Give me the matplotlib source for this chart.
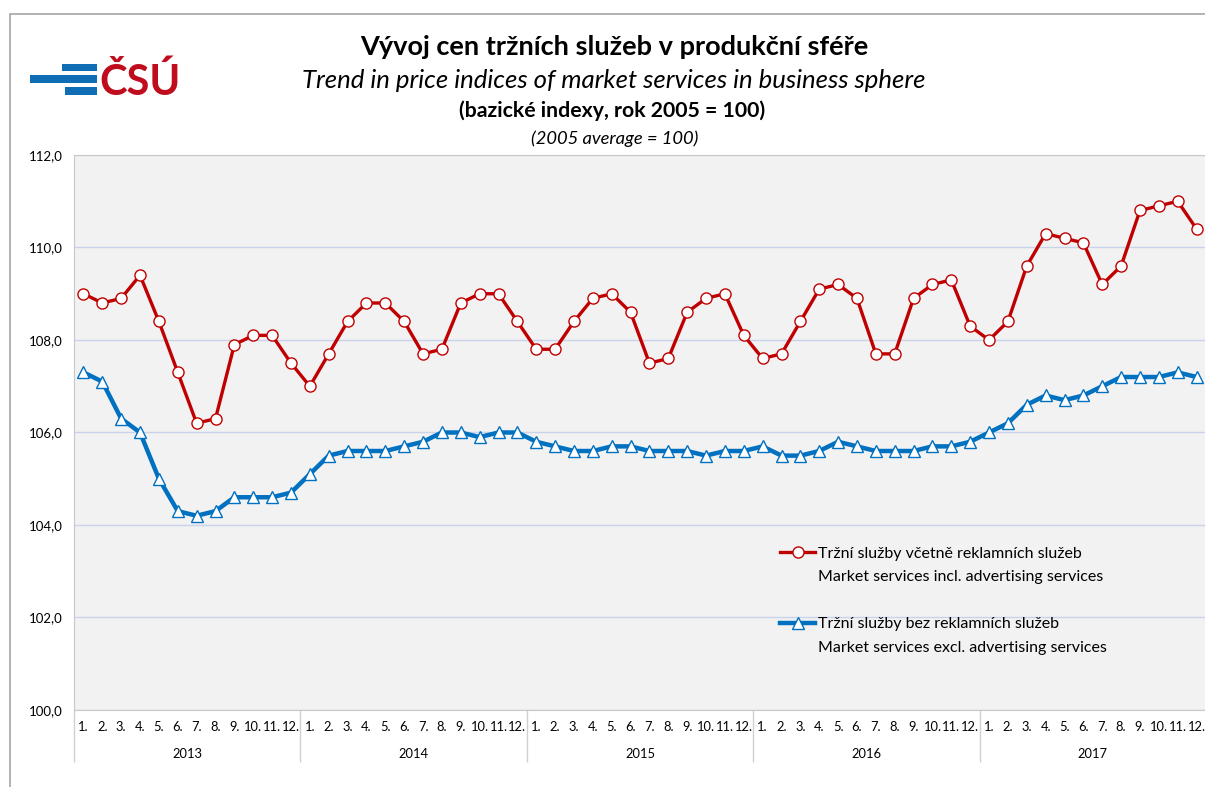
import numpy as np
import matplotlib.pyplot as plt
from matplotlib.lines import Line2D
from matplotlib.patches import Rectangle

plt.rcParams['font.family'] = ['Lato', 'DejaVu Sans']

years = ['2013', '2014', '2015', '2016', '2017']
months = ['1.', '2.', '3.', '4.', '5.', '6.', '7.', '8.', '9.', '10.', '11.', '12.']

# trzni sluzby vcetne reklamnich sluzeb (2005 = 100)
incl_adv = [109.0, 108.8, 108.9, 109.4, 108.4, 107.3, 106.2, 106.3, 107.9, 108.1, 108.1, 107.5,
            107.0, 107.7, 108.4, 108.8, 108.8, 108.4, 107.7, 107.8, 108.8, 109.0, 109.0, 108.4,
            107.8, 107.8, 108.4, 108.9, 109.0, 108.6, 107.5, 107.6, 108.6, 108.9, 109.0, 108.1,
            107.6, 107.7, 108.4, 109.1, 109.2, 108.9, 107.7, 107.7, 108.9, 109.2, 109.3, 108.3,
            108.0, 108.4, 109.6, 110.3, 110.2, 110.1, 109.2, 109.6, 110.8, 110.9, 111.0, 110.4]
# trzni sluzby bez reklamnich sluzeb
excl_adv = [107.3, 107.1, 106.3, 106.0, 105.0, 104.3, 104.2, 104.3, 104.6, 104.6, 104.6, 104.7,
            105.1, 105.5, 105.6, 105.6, 105.6, 105.7, 105.8, 106.0, 106.0, 105.9, 106.0, 106.0,
            105.8, 105.7, 105.6, 105.6, 105.7, 105.7, 105.6, 105.6, 105.6, 105.5, 105.6, 105.6,
            105.7, 105.5, 105.5, 105.6, 105.8, 105.7, 105.6, 105.6, 105.6, 105.7, 105.7, 105.8,
            106.0, 106.2, 106.6, 106.8, 106.7, 106.8, 107.0, 107.2, 107.2, 107.2, 107.3, 107.2]

labels_cz = ['Tržní služby včetně reklamních služeb', 'Tržní služby bez reklamních služeb']
labels_en = ['Market services incl. advertising services', 'Market services excl. advertising services']
yticks = [100, 102, 104, 106, 108, 110, 112]

W, H = 1205, 787
red = '#C00000'
blue = '#0070C0'

fig = plt.figure(figsize=(W / 100, H / 100), dpi=100)

# outer frame
fig.patches.append(Rectangle((10 / W, -0.05), 1.2, (H - 14) / H + 0.05, transform=fig.transFigure,
                             fill=False, edgecolor='#A6A6A6', linewidth=1.2))

# logo
for x0, y0, x1, y1 in [(62, 64, 97, 71), (30, 75, 97, 83), (65, 87, 97, 95)]:
    fig.patches.append(Rectangle((x0 / W, (H - y1) / H), (x1 - x0) / W, (y1 - y0) / H,
                                 transform=fig.transFigure, facecolor='#0F6DB5', edgecolor='none'))
fig.text(99 / W, (H - 95) / H, 'ČSÚ', color='#C00D1E', fontsize=30, fontweight='bold',
         ha='left', va='baseline')

fig.text(614 / W, (H - 47) / H, 'Vývoj cen tržních služeb v produkční sféře', fontsize=19.5,
         fontweight='bold', ha='center', va='center')
fig.text(614 / W, (H - 80) / H, 'Trend in price indices of market services in business sphere',
         fontsize=18.5, style='italic', ha='center', va='center')
fig.text(612 / W, (H - 111) / H, '(bazické indexy, rok 2005 = 100)', fontsize=15.3,
         fontweight='bold', ha='center', va='center')
fig.text(615 / W, (H - 139) / H, '(2005 average = 100)', fontsize=13.2, style='italic',
         ha='center', va='center')

ax = fig.add_axes([74 / W, (H - 710) / H, 1132 / W, 555 / H])
ax.set_facecolor('#F2F2F2')
x = np.arange(len(incl_adv))

ax.plot(x, excl_adv, color=blue, lw=3.2, marker='^', ms=8, mfc='white', mec=blue, mew=1.0,
        zorder=3, clip_on=False)
ax.plot(x, incl_adv, color=red, lw=2.4, marker='o', ms=8, mfc='white', mec=red, mew=1.0,
        zorder=4, clip_on=False)

ax.set_xlim(-0.5, len(x) - 0.5)
ax.set_ylim(100, 112)
ax.set_yticks(yticks, [f'{v:.1f}'.replace('.', ',') for v in yticks])
ax.grid(axis='y', color='#C9D3EA', lw=1)
ax.set_axisbelow(True)
ax.tick_params(axis='y', length=0, pad=8, labelsize=9.5)
ax.set_xticks(x, months * len(years))
ax.tick_params(axis='x', length=0, pad=8, labelsize=9.3)
for s in ['top', 'left', 'bottom']:
    ax.spines[s].set_color('#C8C8C8')
ax.spines['right'].set_visible(False)

# year separators and year labels
sec = ax.secondary_xaxis('bottom')
sec.set_xticks(np.arange(-0.5, len(x), 12))
sec.set_xticks(np.arange(5.5, len(x), 12), years, minor=True)
sec.tick_params(axis='x', which='major', length=37.5, width=1, color='#D0D0D0', labelbottom=False)
sec.tick_params(axis='x', which='minor', length=0, pad=27.5, labelsize=9.3)
sec.spines['bottom'].set_visible(False)

# legend
blank = Line2D([], [], linestyle='none')
h_red = Line2D([], [], color=red, lw=2.4, marker='o', ms=8, mfc='white', mec=red)
h_blue = Line2D([], [], color=blue, lw=3.2, marker='^', ms=8, mfc='white', mec=blue)
ax.legend([h_red, blank, blank, h_blue, blank],
          [labels_cz[0], labels_en[0], '', labels_cz[1], labels_en[1]],
          loc='upper left', bbox_to_anchor=(0.6237, 0.294), frameon=False, fontsize=11.5,
          handlelength=2.2, handletextpad=0.15, labelspacing=0.58, borderpad=0, borderaxespad=0)

fig.savefig('out.png', dpi=100)
